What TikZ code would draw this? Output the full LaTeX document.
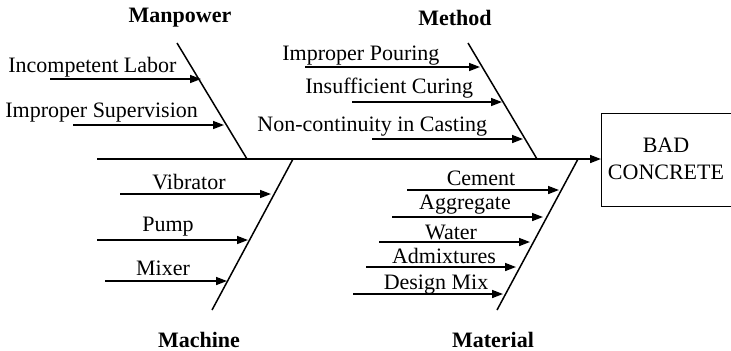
\documentclass[tikz,border=0pt]{standalone}
\usepackage{fontspec}
\setmainfont{Liberation Serif}
\usetikzlibrary{arrows.meta, positioning}
\tikzset{
  bone/.style = {line width=0.75pt},
  cause/.style = {line width=0.75pt, -{Triangle[length=5.5pt, width=4pt]}},
  causetext/.style = {inner sep=0pt, font=\fontsize{11}{13}\selectfont},
  category/.style = {inner sep=0pt, font=\fontsize{11}{13}\selectfont\bfseries}
}

\begin{document}
\begin{tikzpicture}[x=0.5pt, y=-0.5pt]
  \useasboundingbox (0,0) rectangle (731,350);

  % Effect
  \node[draw, line width=0.6pt, minimum width=68pt, minimum height=46.5pt, align=center,
        inner sep=0pt, font=\fontsize{11}{13.5}\selectfont, anchor=north west] (effect) at (601,113) {};
  \node[font=\fontsize{11}{13.5}\selectfont, align=center, inner sep=0pt] (effectText) at (666,159) {BAD\\CONCRETE};

  % Spine
  \coordinate (tail) at (97,159);
  \draw[cause] (tail) -- (effect.west |- tail);

  % Manpower
  \coordinate (mpTop) at (177,43);
  \coordinate (mpFoot) at (247,159);
  \draw[bone] (mpTop) -- (mpFoot);
  \node[category] (manpower) at (180,18) {Manpower};
  \coordinate (lab) at (50,79);
  \coordinate (labEnd) at (201,79);
  \draw[cause] (lab) -- (labEnd);
  \node[causetext, anchor=base west] (labText) at (8,72) {Incompetent Labor};
  \coordinate (sup) at (73,125);
  \coordinate (supEnd) at (224,125);
  \draw[cause] (sup) -- (supEnd);
  \node[causetext, anchor=base west] (supText) at (5,117) {Improper Supervision};

  % Method
  \coordinate (meTop) at (468,43);
  \coordinate (meFoot) at (537,159);
  \draw[bone] (meTop) -- (meFoot);
  \node[category] (method) at (455,18) {Method};
  \coordinate (pour) at (305,67);
  \coordinate (pourEnd) at (480,67);
  \draw[cause] (pour) -- (pourEnd);
  \node[causetext, anchor=base west] (pourText) at (282,60) {Improper Pouring};
  \coordinate (cure) at (352,102);
  \coordinate (cureEnd) at (502,102);
  \draw[cause] (cure) -- (cureEnd);
  \node[causetext, anchor=base west] (cureText) at (305,93) {Insufficient Curing};
  \coordinate (cast) at (372,139);
  \coordinate (castEnd) at (523,139);
  \draw[cause] (cast) -- (castEnd);
  \node[causetext, anchor=base west] (castText) at (257,131) {Non-continuity in Casting};

  % Machine
  \coordinate (maTop) at (293,159);
  \coordinate (maFoot) at (212,310);
  \draw[bone] (maTop) -- (maFoot);
  \node[category] (machine) at (199,340) {Machine};
  \coordinate (vib) at (120,194);
  \coordinate (vibEnd) at (271,194);
  \draw[cause] (vib) -- (vibEnd);
  \node[causetext, anchor=base] (vibText) at (189,189) {Vibrator};
  \coordinate (pump) at (97,240);
  \coordinate (pumpEnd) at (248,240);
  \draw[cause] (pump) -- (pumpEnd);
  \node[causetext, anchor=base] (pumpText) at (168,231) {Pump};
  \coordinate (mix) at (105,281);
  \coordinate (mixEnd) at (227,281);
  \draw[cause] (mix) -- (mixEnd);
  \node[causetext, anchor=base] (mixText) at (163,275) {Mixer};

  % Material
  \coordinate (mtTop) at (578,159);
  \coordinate (mtFoot) at (497,310);
  \draw[bone] (mtTop) -- (mtFoot);
  \node[category] (material) at (493,340) {Material};
  \coordinate (cem) at (407,190);
  \coordinate (cemEnd) at (559,190);
  \draw[cause] (cem) -- (cemEnd);
  \node[causetext, anchor=base] (cemText) at (481,185) {Cement};
  \coordinate (agg) at (392,217);
  \coordinate (aggEnd) at (543,217);
  \draw[cause] (agg) -- (aggEnd);
  \node[causetext, anchor=base] (aggText) at (465,209) {Aggregate};
  \coordinate (wat) at (379,242);
  \coordinate (watEnd) at (530,242);
  \draw[cause] (wat) -- (watEnd);
  \node[causetext, anchor=base] (watText) at (451,239) {Water};
  \coordinate (adm) at (366,267);
  \coordinate (admEnd) at (516,267);
  \draw[cause] (adm) -- (admEnd);
  \node[causetext, anchor=base] (admText) at (444,263) {Admixtures};
  \coordinate (des) at (353,294);
  \coordinate (desEnd) at (503,294);
  \draw[cause] (des) -- (desEnd);
  \node[causetext, anchor=base] (desText) at (436,289) {Design Mix};

\end{tikzpicture}
\end{document}
